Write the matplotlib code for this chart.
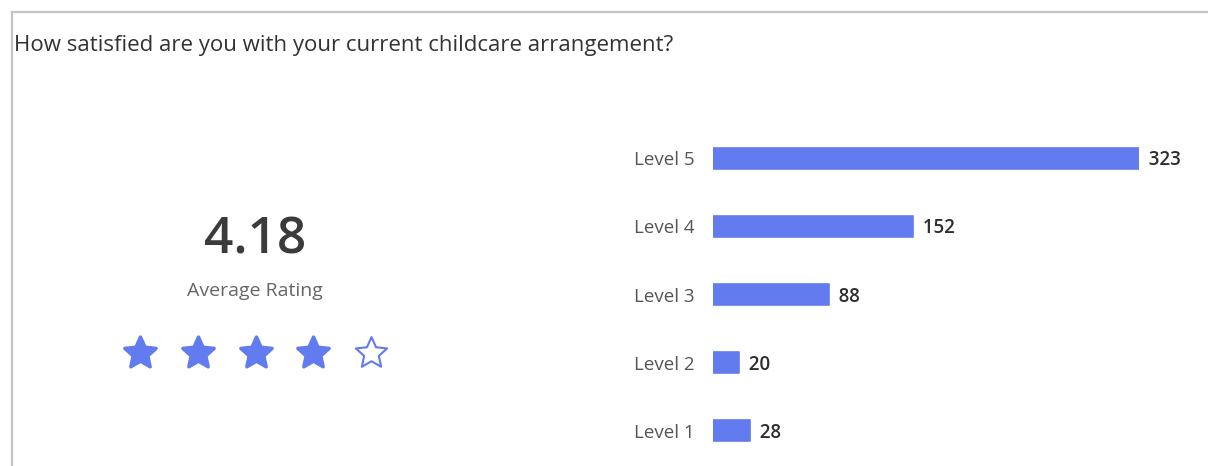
import numpy as np
import matplotlib
matplotlib.use("Agg")
import matplotlib.pyplot as plt
from matplotlib.lines import Line2D
from matplotlib.markers import MarkerStyle
from matplotlib.path import Path

# data
levels = ["Level 5", "Level 4", "Level 3", "Level 2", "Level 1"]
scores = [5, 4, 3, 2, 1]
counts = [323, 152, 88, 20, 28]
title = "How satisfied are you with your current childcare arrangement?"

blue = "#627bee"
W, H = 1208, 466
plt.rcParams['font.family'] = ['Open Sans', 'DejaVu Sans']

def box(x0, y0, x1, y1):
    # pixel box (top-left origin) -> figure fraction rect
    return [x0 / W, 1 - y1 / H, (x1 - x0) / W, (y1 - y0) / H]

fig = plt.figure(figsize=(W / 100, H / 100), dpi=100)
fig.patch.set_facecolor("white")

# frame lines (top + left only)
fig.add_artist(Line2D([12 / W, 1], [1 - 12 / H, 1 - 12 / H], color="#c4c4c4", lw=1.6))
fig.add_artist(Line2D([12 / W, 12 / W], [0, 1 - 12 / H], color="#c4c4c4", lw=1.6))

fig.text(14 / W, 1 - 46 / H, title, fontsize=16, color="#333333", va="center", ha="left")

# bars
ax = fig.add_axes(box(713, 124, 1139, 465))
ax.barh(scores, counts, height=0.31, color=blue, edgecolor=blue, linewidth=1.2, joinstyle="round")
ax.set_xlim(0, max(counts))
ax.set_ylim(0.5, 5.5)
ax.axis("off")
for s, c, lab in zip(scores, counts, levels):
    ax.annotate("  " + str(c), (c, s), xytext=(0, -1.5), textcoords="offset points",
                ha="left", va="center", fontsize=13.5, color="#2e2e2e", fontweight="semibold")
    ax.annotate(lab, (0, s), xytext=(-13, -1.5), textcoords="offset points",
                ha="right", va="center", fontsize=13.5, color="#555555")

# average rating
avg = sum(a * b for a, b in zip(scores, counts)) / sum(counts)
fig.text(255 / W, 1 - 240 / H, "%.2f" % avg, fontsize=37, color="#3b3b3b", ha="center", va="center",
         fontweight="semibold")
fig.text(255 / W, 1 - 291 / H, "Average Rating", fontsize=14, color="#666666", ha="center", va="center")

# fatter five-point star
ang = np.pi / 2 + np.arange(10) * np.pi / 5
rad = np.where(np.arange(10) % 2 == 0, 1.0, 0.47)
verts = np.column_stack([rad * np.cos(ang), rad * np.sin(ang)])
verts = np.vstack([verts, verts[:1]])
star = MarkerStyle(Path(verts, closed=True), joinstyle="round")

sax = fig.add_axes(box(111, 320, 400, 386))
star_x = np.arange(1, 6)
filled = star_x <= round(avg)
sax.scatter(star_x[filled], np.zeros(filled.sum()), s=560, marker=star, color=blue, edgecolor=blue, linewidth=2.5)
sax.scatter(star_x[~filled], np.zeros((~filled).sum()), s=560, marker=star, facecolor="white", edgecolor=blue, linewidth=1.5)
sax.set_xlim(0.5, 5.5)
sax.set_ylim(-1, 1)
sax.axis("off")

fig.savefig("out.png", dpi=100, facecolor="white")
